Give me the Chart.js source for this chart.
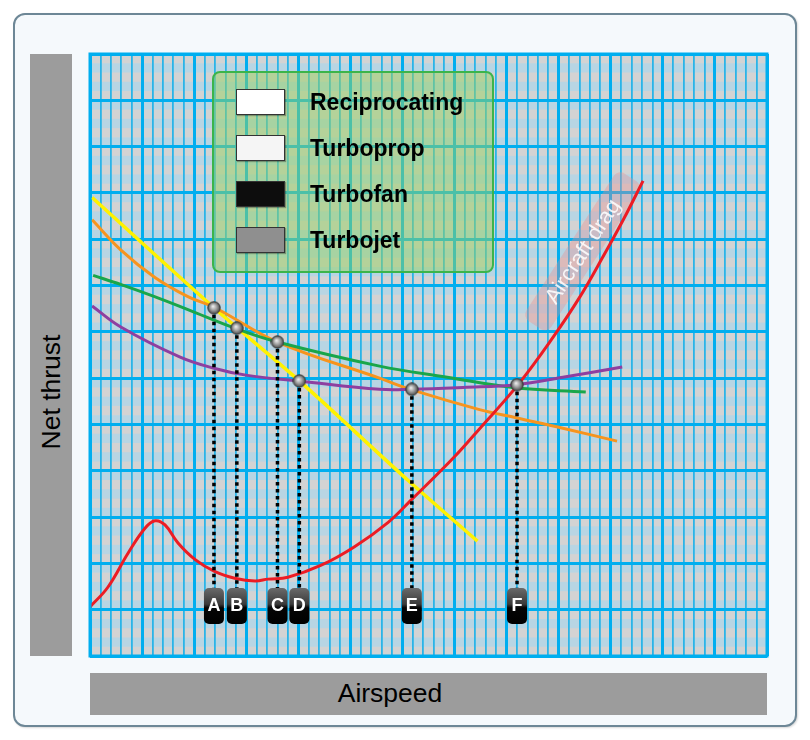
<!DOCTYPE html>
<html>
<head>
<meta charset="utf-8">
<script src="https://cdn.jsdelivr.net/npm/chart.js@4.4.1/dist/chart.umd.min.js"></script>
<style>
body { margin: 0; background: #ffffff; font-family: "Liberation Sans", Arial, sans-serif; }
#wrap { position: relative; width: 810px; height: 740px; overflow: hidden; }
#frame { position: absolute; left: 13px; top: 13px; width: 780px; height: 710px; border: 2px solid #6d8796; border-radius: 12px; background: #f5f9fc; box-shadow: 1px 1px 2px rgba(0,0,0,0.15); }
.bar { position: absolute; background: #9c9c9c; }
#ybar { left: 30px; top: 54px; width: 42px; height: 602px; }
#xbar { left: 90px; top: 673px; width: 677px; height: 42px; }
#ytitle { position: absolute; left: 51px; top: 392px; transform: translate(-50%, -50%) rotate(-90deg); font-size: 26.5px; color: #000; white-space: nowrap; }
#xtitle { position: absolute; left: 390px; top: 693px; transform: translate(-50%, -50%); font-size: 26.5px; color: #000; white-space: nowrap; }
#chart { position: absolute; left: 0; top: 0; }
#legend { position: absolute; left: 212px; top: 71px; width: 278px; height: 198px; border: 2px solid #3cb44b; border-radius: 8px; background: rgba(149, 209, 97, 0.5); }
.sw { position: absolute; left: 22px; width: 47px; height: 24px; border: 1.5px solid #333; box-shadow: 1px 1px 1px rgba(0,0,0,0.3); }
.lt { position: absolute; left: 96px; font-size: 23px; font-weight: bold; color: #000; line-height: 26px; }
</style>
</head>
<body>
<div id="wrap">
  <div id="frame"></div>
  <div class="bar" id="ybar"></div>
  <div class="bar" id="xbar"></div>
  <div id="ytitle">Net thrust</div>
  <div id="xtitle">Airspeed</div>
  <canvas id="chart" width="810" height="740"></canvas>
  <div id="legend"></div>
</div>
<script>
// 曲線資料 (x: 空速格, y: 推力格)
const recipX = [0.2, 11.9, 20.1, 30.5, 37.2];
const recipY = [49.5, 37.6, 29.7, 19.0, 12.4];

const propX = [0.2, 3.0, 6.2, 9.4, 12.0, 18.0, 27.8, 31.0, 37.4, 41.0, 45.4, 50.6];
const propY = [47.1, 43.8, 40.9, 38.8, 37.6, 33.9, 30.0, 28.7, 26.6, 25.7, 24.6, 23.2];

const fanX = [0.3, 3.0, 6.2, 9.4, 13.9, 18.0, 27.8, 34.3, 40.6, 47.6];
const fanY = [41.1, 40.1, 38.8, 37.4, 35.4, 33.9, 31.3, 30.1, 29.0, 28.5];

const jetX = [0.2, 3.0, 8.6, 11.8, 15.1, 20.1, 27.8, 30.9, 35.8, 41.0, 45.4, 51.1];
const jetY = [37.8, 35.5, 32.3, 31.1, 30.3, 29.7, 28.8, 28.8, 29.0, 29.3, 30.1, 31.2];

const dragX = [0.0, 1.73, 3.65, 5.28, 6.24, 7.2, 8.45, 10.1, 12.0, 13.9, 15.85, 17.1, 19.0, 22.2, 25.4, 28.6, 30.8, 34.9, 37.45, 41.1, 44.45, 47.05, 49.25, 51.2, 53.1];
const dragY = [5.3, 7.45, 11.1, 13.8, 14.6, 14.15, 12.2, 10.4, 9.1, 8.4, 8.1, 8.3, 8.5, 9.8, 11.8, 14.4, 16.8, 21.4, 24.6, 29.3, 34.4, 38.8, 43.1, 47.1, 51.3];

const markerLabels = ['A', 'B', 'C', 'D', 'E', 'F'];
const markerX = [11.9, 14.1, 18.0, 20.1, 30.9, 41.0];
const markerY = [37.6, 35.4, 33.9, 29.7, 28.8, 29.3];
const markerBase = 7.3;   // 虛線底端
const markerTag = 5.4;    // 標籤中心

const legendLabels = ['Reciprocating', 'Turboprop', 'Turbofan', 'Turbojet'];
const legendSwatches = ['#ffffff', '#f5f5f5', '#0d0d0d', '#8f8f8f'];

function pts(xs, ys) {
    return xs.map((x, i) => ({ x: x, y: ys[i] }));
}

// legend (HTML)
const legendBox = document.getElementById('legend');
legendLabels.forEach((name, i) => {
    const sw = document.createElement('div');
    sw.className = 'sw';
    sw.style.top = (16 + i * 46) + 'px';
    sw.style.background = legendSwatches[i];
    legendBox.appendChild(sw);
    const t = document.createElement('div');
    t.className = 'lt';
    t.style.top = (16 + i * 46) + 'px';
    t.textContent = name;
    legendBox.appendChild(t);
});

// 圓點圖樣 (灰色漸層)
const dot = document.createElement('canvas');
dot.width = 14; dot.height = 14;
(function () {
    const c = dot.getContext('2d');
    const g = c.createRadialGradient(6, 5.5, 0.5, 7, 7, 6.5);
    g.addColorStop(0, '#e8e8e8');
    g.addColorStop(0.5, '#9a9a9a');
    g.addColorStop(1, '#404040');
    c.fillStyle = g;
    c.beginPath();
    c.arc(7, 7, 6.2, 0, Math.PI * 2);
    c.fill();
    c.strokeStyle = '#3a3a3a';
    c.lineWidth = 1;
    c.stroke();
})();

const paperPlugin = {
    id: 'paper',
    beforeDraw(chart) {
        const { ctx, chartArea: a, scales: { y } } = chart;
        ctx.save();
        ctx.fillStyle = '#d3d3d3';
        ctx.fillRect(a.left, a.top, a.right - a.left, a.bottom - a.top);
        ctx.fillStyle = '#b8d5e3';
        for (let k = 1; k < 65; k += 2) {
            const y0 = y.getPixelForValue(k + 1), y1 = y.getPixelForValue(k);
            ctx.fillRect(a.left, y0, a.right - a.left, y1 - y0);
        }
        ctx.restore();
    },
    beforeDatasetsDraw(chart) {
        // Aircraft drag label
        const { ctx, scales: { x, y } } = chart;
        const cx = x.getPixelForValue(47.3), cy = y.getPixelForValue(43.7);
        ctx.save();
        ctx.translate(cx, cy);
        ctx.rotate(-57 * Math.PI / 180);
        ctx.fillStyle = 'rgba(235, 140, 140, 0.35)';
        ctx.beginPath();
        ctx.roundRect(-88, -15, 176, 30, 8);
        ctx.fill();
        ctx.fillStyle = 'rgba(255, 255, 255, 0.85)';
        ctx.font = '22px "Liberation Sans", Arial, sans-serif';
        ctx.textAlign = 'center';
        ctx.textBaseline = 'middle';
        ctx.fillText('Aircraft drag', 0, 1);
        ctx.restore();
    },
    afterDatasetsDraw(chart) {
        const { ctx, scales: { x, y } } = chart;
        ctx.save();
        markerLabels.forEach((lab, i) => {
            const px = x.getPixelForValue(markerX[i]);
            const py = y.getPixelForValue(markerTag);
            const g = ctx.createLinearGradient(0, py - 18, 0, py + 18);
            g.addColorStop(0, '#6a6a6a');
            g.addColorStop(0.45, '#3a3a3a');
            g.addColorStop(0.55, '#050505');
            g.addColorStop(1, '#000000');
            ctx.fillStyle = g;
            ctx.beginPath();
            ctx.roundRect(px - 10, py - 18, 20, 36, 5);
            ctx.fill();
            ctx.fillStyle = '#ffffff';
            ctx.font = 'bold 18px "Liberation Sans", Arial, sans-serif';
            ctx.textAlign = 'center';
            ctx.textBaseline = 'middle';
            ctx.fillText(lab, px, py);
        });
        ctx.restore();
    },
    afterDraw(chart) {
        const { ctx, chartArea: a } = chart;
        ctx.save();
        ctx.strokeStyle = '#00aeef';
        ctx.lineWidth = 3;
        ctx.strokeRect(a.left, a.top, a.right - a.left, a.bottom - a.top);
        ctx.restore();
    }
};

const curve = (data, color, w, t) => ({
    data: data,
    borderColor: color,
    borderWidth: w,
    pointRadius: 0,
    tension: t,
    fill: false
});

const datasets = [];
datasets.push({
    data: pts(markerX, markerY),
    showLine: false,
    pointStyle: dot,
    pointRadius: 7
});
markerX.forEach((mx, i) => {
    datasets.push({
        data: [{ x: mx, y: markerY[i] }, { x: mx, y: markerBase }],
        borderColor: '#000000',
        borderWidth: 3.5,
        borderDash: [3.5, 3.5],
        pointRadius: 0
    });
});
datasets.push(curve(pts(dragX, dragY), '#ed1c24', 3, 0.4));
datasets.push(curve(pts(jetX, jetY), '#8e3fa0', 3, 0.4));
datasets.push(curve(pts(fanX, fanY), '#1aa64a', 3, 0.4));
datasets.push(curve(pts(propX, propY), '#f7941d', 3, 0.4));
datasets.push(curve(pts(recipX, recipY), '#fff200', 3.5, 0.3));

new Chart(document.getElementById('chart'), {
    type: 'line',
    data: { datasets: datasets },
    options: {
        responsive: false,
        animation: false,
        layout: { padding: { left: 90, top: 54, right: 43, bottom: 84 } },
        plugins: { legend: { display: false }, tooltip: { enabled: false } },
        scales: {
            x: {
                type: 'linear', min: 0, max: 65,
                ticks: { display: false, stepSize: 1 },
                border: { display: false },
                grid: {
                    drawTicks: false,
                    color: c => c.tick.value % 5 === 0 ? '#00aeef' : '#2ab4e8',
                    lineWidth: c => c.tick.value % 5 === 0 ? 3 : 1.8
                }
            },
            y: {
                type: 'linear', min: 0, max: 65,
                ticks: { display: false, stepSize: 1 },
                border: { display: false },
                grid: {
                    drawTicks: false,
                    color: c => c.tick.value % 5 === 0 ? '#00aeef' : 'rgba(0,0,0,0)',
                    lineWidth: 3
                }
            }
        }
    },
    plugins: [paperPlugin]
});
</script>
</body>
</html>
